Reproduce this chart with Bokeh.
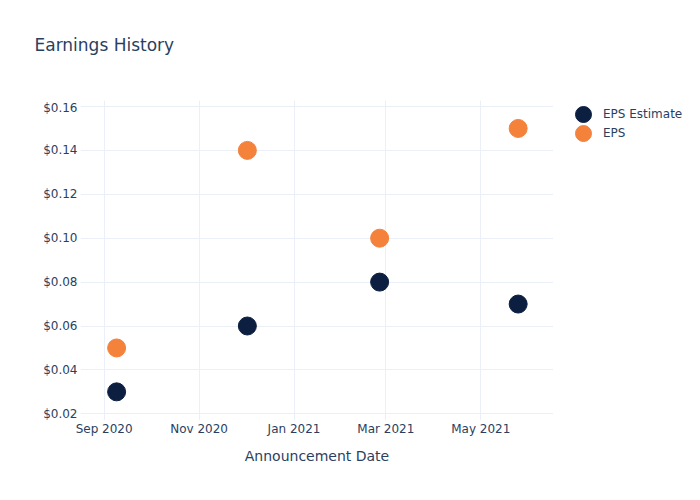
import pandas as pd
from bokeh.plotting import figure
from bokeh.layouts import column, row
from bokeh.models import (ColumnDataSource, Range1d, FixedTicker, DatetimeTickFormatter,
                          NumeralTickFormatter, Legend, LegendItem, Label)
from bokeh.embed import file_html
from bokeh.resources import INLINE

# ---- data ----
dates = ["2020-09-09", "2020-12-02", "2021-02-25", "2021-05-25"]
eps_estimate = [0.03, 0.06, 0.08, 0.07]
eps_actual = [0.05, 0.14, 0.10, 0.15]
series_names = ["EPS Estimate", "EPS"]
x_tick_dates = ["2020-09-01", "2020-11-01", "2021-01-01", "2021-03-01", "2021-05-01"]
y_ticks = [0.02, 0.04, 0.06, 0.08, 0.10, 0.12, 0.14, 0.16]
x_start, x_end = "2020-08-16 19:00", "2021-06-16 17:00"
y_start, y_end = 0.01695, 0.16273
title_text = "Earnings History"
x_label = "Announcement Date"

FONT = "DejaVu Sans"
TXT = "#2a3f5f"
GRID = "#EBF0F8"
NAVY = "#0C1F40"
ORANGE = "#F5823A"

src = ColumnDataSource(dict(date=pd.to_datetime(dates), est=eps_estimate, eps=eps_actual))

# ---- title strip ----
title_fig = figure(width=700, height=100, output_backend="svg", toolbar_location=None,
                   x_range=Range1d(0, 700), y_range=Range1d(100, 0),
                   x_axis_location=None, y_axis_location=None, min_border=0)
title_fig.outline_line_color = None
title_fig.xgrid.visible = False
title_fig.ygrid.visible = False
title_fig.add_layout(Label(x=34, y=44, text=title_text, text_font=FONT, text_font_size="17px",
                           text_color=TXT, text_baseline="alphabetic", text_align="left"))

# ---- main plot ----
p = figure(width=553, height=400, output_backend="svg", toolbar_location=None,
           x_axis_type="datetime",
           x_range=Range1d(pd.Timestamp(x_start), pd.Timestamp(x_end)),
           y_range=Range1d(y_start, y_end),
           min_border_left=80, min_border_right=0, min_border_top=0, min_border_bottom=80)
p.title = None
p.outline_line_color = None
p.background_fill_color = "white"

p.scatter("date", "est", source=src, size=18, color=NAVY, line_color=NAVY)
p.scatter("date", "eps", source=src, size=18, color=ORANGE, line_color=ORANGE)

p.xaxis.ticker = FixedTicker(ticks=[pd.Timestamp(d).value / 1e6 for d in x_tick_dates])
p.xaxis.formatter = DatetimeTickFormatter(months="%b %Y", days="%b %Y", years="%b %Y")
p.yaxis.ticker = FixedTicker(ticks=y_ticks)
p.yaxis.formatter = NumeralTickFormatter(format="$0.00")

for ax in (p.xaxis[0], p.yaxis[0]):
    ax.axis_line_color = None
    ax.major_tick_line_color = None
    ax.minor_tick_line_color = None
    ax.major_tick_out = 0
    ax.major_tick_in = 0
    ax.major_label_text_font = FONT
    ax.major_label_text_font_size = "12px"
    ax.major_label_text_color = TXT
p.xaxis.major_label_standoff = 1
p.yaxis.major_label_standoff = 3

p.xaxis.axis_label = x_label
p.xaxis.axis_label_text_font = FONT
p.xaxis.axis_label_text_font_size = "14px"
p.xaxis.axis_label_text_font_style = "normal"
p.xaxis.axis_label_text_color = TXT
p.xaxis.axis_label_standoff = 9

p.xgrid.grid_line_color = GRID
p.ygrid.grid_line_color = GRID

# ---- legend strip (its renderers share the data but fall outside this strip's ranges) ----
leg_fig = figure(width=147, height=400, output_backend="svg", toolbar_location=None,
                 x_range=Range1d(0, 1), y_range=Range1d(0, 1),
                 x_axis_location=None, y_axis_location=None, min_border=0)
leg_fig.outline_line_color = None
leg_fig.xgrid.visible = False
leg_fig.ygrid.visible = False

for name, field, colr, loc in zip(series_names, ["est", "eps"], [NAVY, ORANGE],
                                  [(10, 286), (10, 267)]):
    rr = leg_fig.scatter("date", field, source=src, size=18, color=colr, line_color=colr)
    lg = Legend(items=[LegendItem(label=name, renderers=[rr], index=0)],
                location=loc, padding=0, margin=0, spacing=0,
                glyph_width=40, glyph_height=40, label_standoff=0,
                label_text_font=FONT, label_text_font_size="12px", label_text_color=TXT,
                border_line_color=None, background_fill_alpha=0)
    leg_fig.add_layout(lg, "center")

layout = column(title_fig, row(p, leg_fig))
open("out.html", "w").write(file_html(layout, INLINE))
